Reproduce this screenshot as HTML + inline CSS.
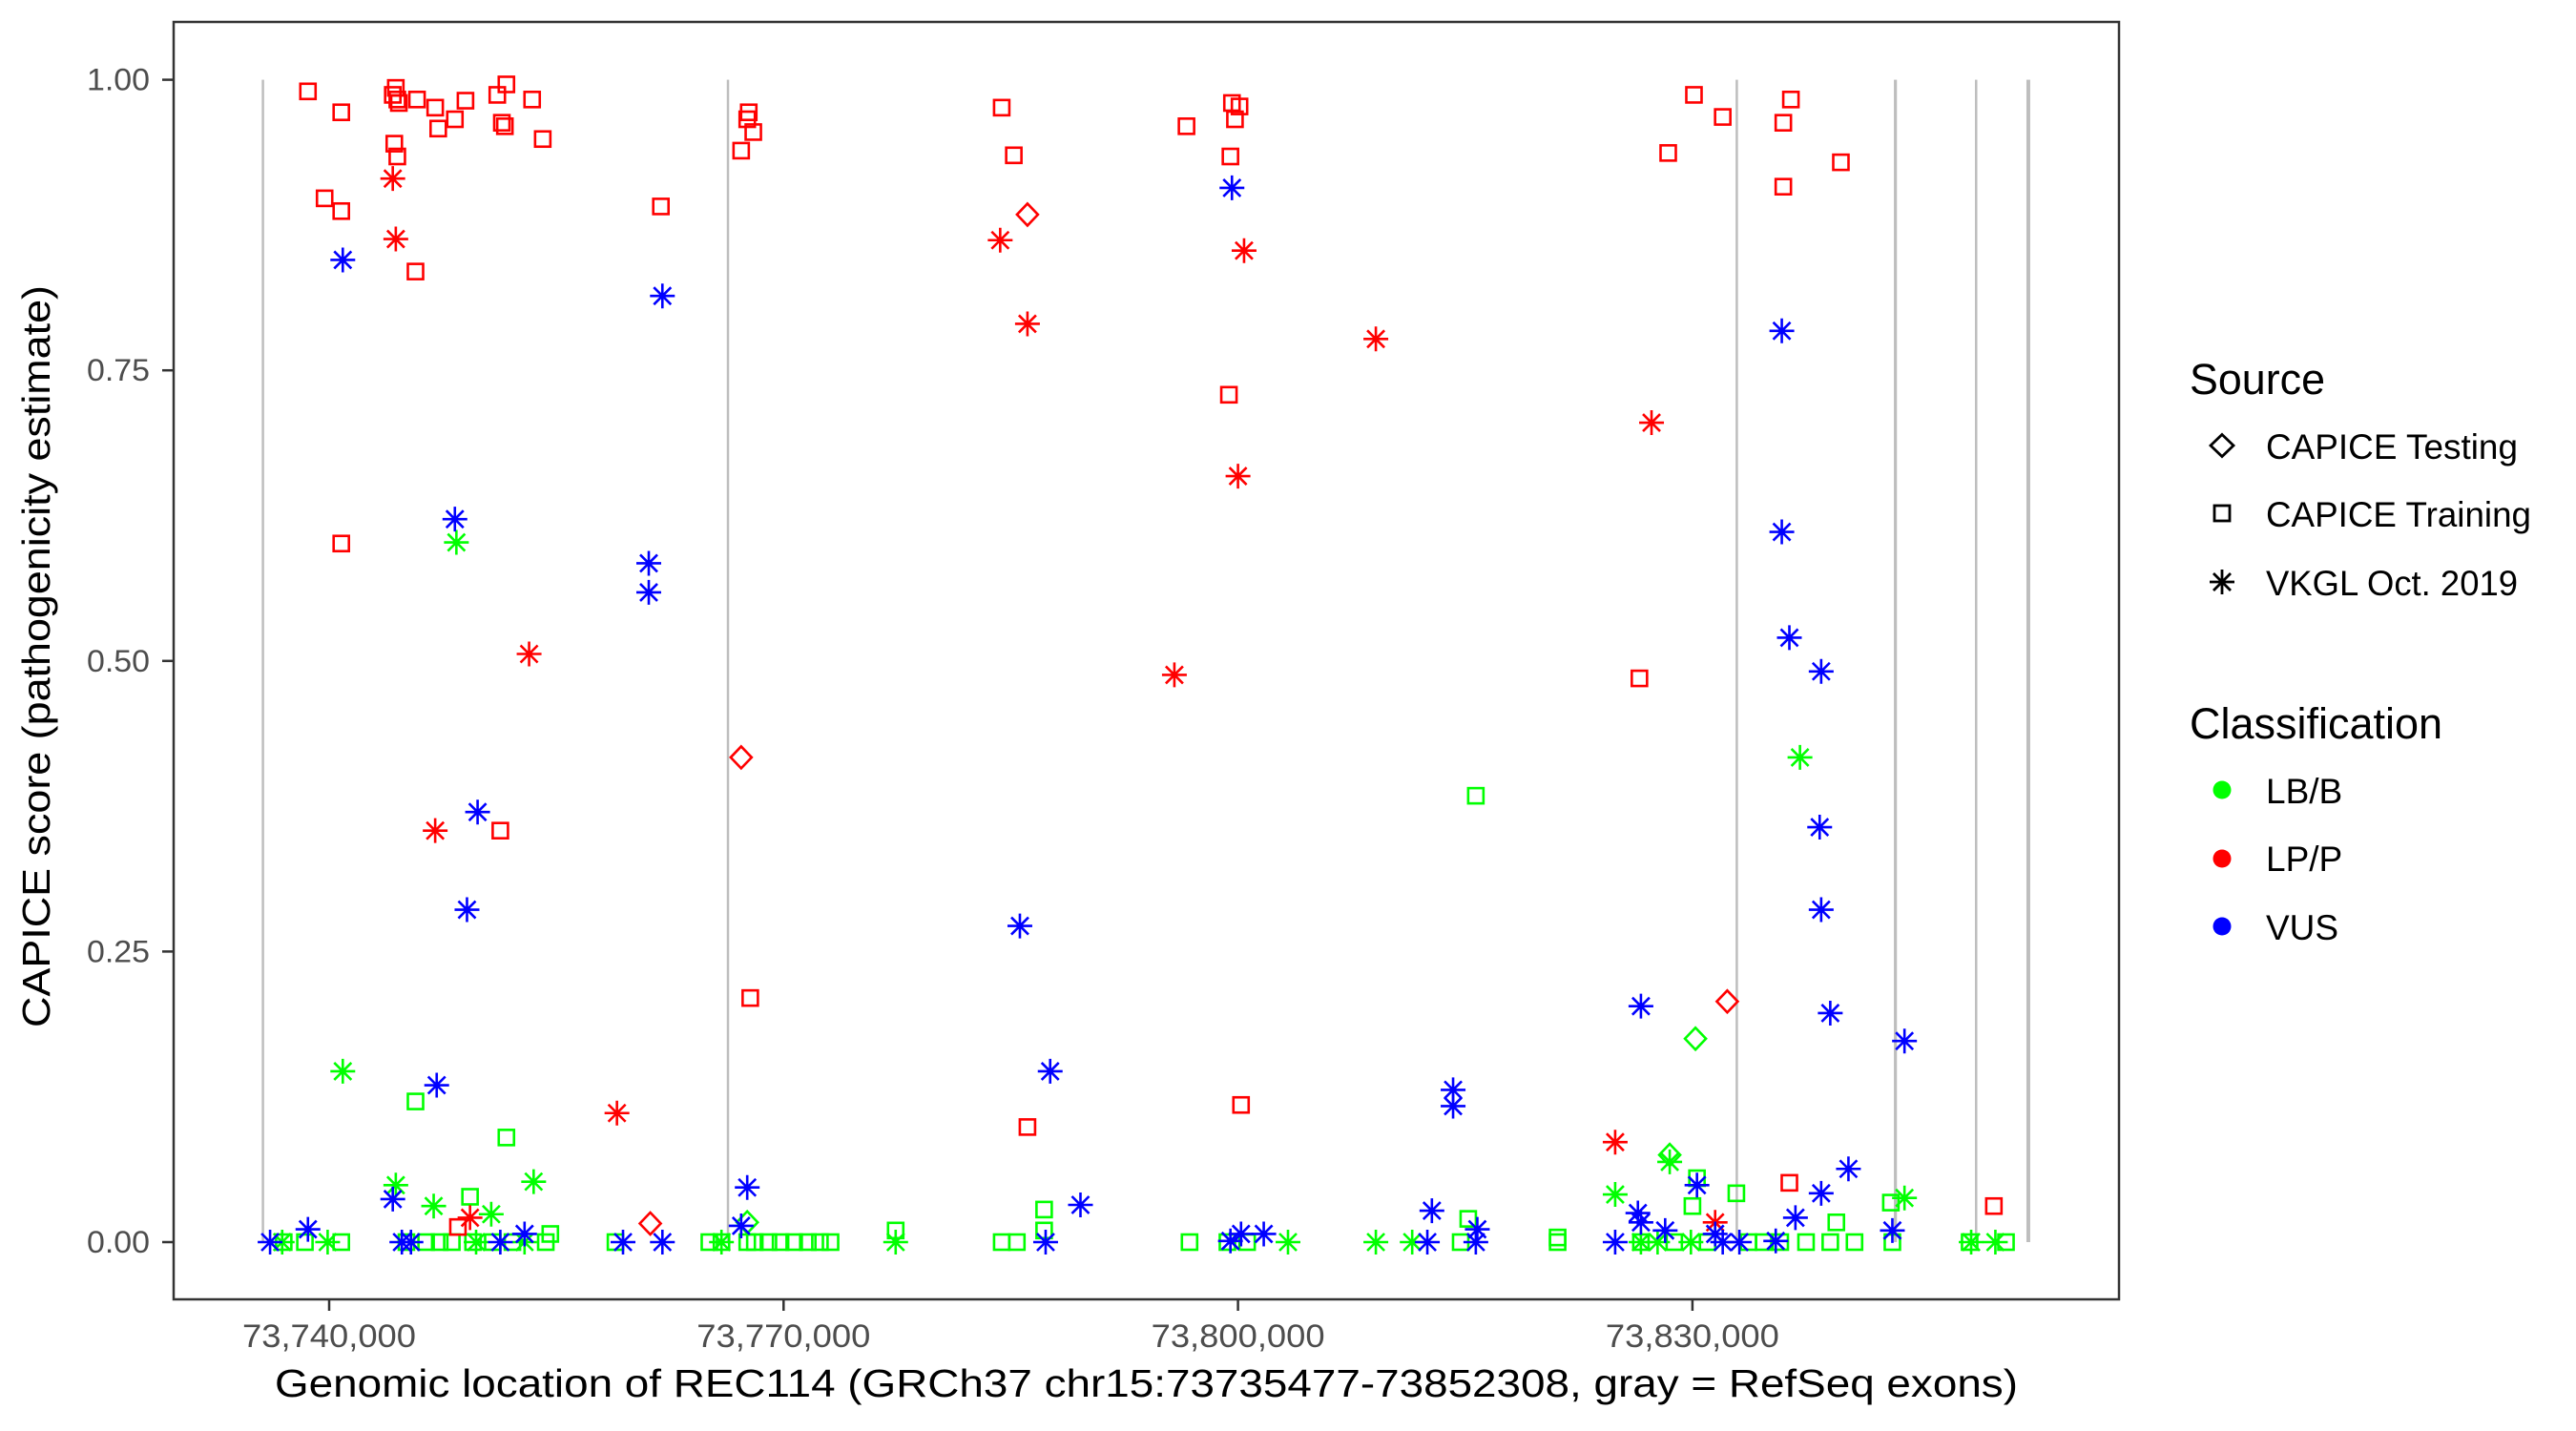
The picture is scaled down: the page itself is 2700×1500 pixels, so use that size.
<!DOCTYPE html>
<html><head><meta charset="utf-8"><style>
html,body{margin:0;padding:0;background:#fff;}
svg{display:block;font-family:"Liberation Sans",Arial,sans-serif;}
</style></head><body>
<svg id="chart" width="2700" height="1500" viewBox="0 0 2700 1500" xmlns="http://www.w3.org/2000/svg">
<rect x="0" y="0" width="2700" height="1500" fill="#fff"/>
<g id="exons"></g>
<g id="points"></g>
<rect x="182" y="23" width="2039" height="1339" fill="none" stroke="#333" stroke-width="2.5"/>
<g id="yaxis"></g>
<g id="xaxis"></g>
<text x="288" y="1464" font-size="41" textLength="1827" lengthAdjust="spacingAndGlyphs" fill="#000">Genomic location of REC114 (GRCh37 chr15:73735477-73852308, gray = RefSeq exons)</text>
<text transform="translate(52,688) rotate(-90)" text-anchor="middle" font-size="41" textLength="778" lengthAdjust="spacingAndGlyphs" fill="#000">CAPICE score (pathogenicity estimate)</text>
<g>
<text x="2295" y="413" font-size="45" textLength="142" lengthAdjust="spacingAndGlyphs">Source</text>
<g>
<path d="M2329,455.5 L2341,467 L2329,478.5 L2317,467 Z" fill="none" stroke="#000" stroke-width="2.8"/>
<text x="2375" y="481" font-size="37" textLength="264" lengthAdjust="spacingAndGlyphs">CAPICE Testing</text></g>
<g>
<rect x="2321" y="530" width="16" height="16" fill="none" stroke="#000" stroke-width="2.8"/>
<text x="2375" y="552" font-size="37" textLength="278" lengthAdjust="spacingAndGlyphs">CAPICE Training</text></g>
<g>
<path d="M2329,597 V623 M2316,610 H2342 M2320,601 L2338,619 M2338,601 L2320,619" stroke="#000" stroke-width="2.8"/>
<text x="2375" y="624" font-size="37" textLength="264" lengthAdjust="spacingAndGlyphs">VKGL Oct. 2019</text></g>
</g>
<g>
<text x="2295" y="774" font-size="45" textLength="265" lengthAdjust="spacingAndGlyphs">Classification</text>
<g><circle cx="2329" cy="828" r="9.5" fill="#00ff00"/><text x="2375" y="842" font-size="37">LB/B</text></g>
<g><circle cx="2329" cy="900" r="9.5" fill="#ff0000"/><text x="2375" y="913" font-size="37">LP/P</text></g>
<g><circle cx="2329" cy="971" r="9.5" fill="#0000ff"/><text x="2375" y="985" font-size="37">VUS</text></g>
</g>
</svg>
<script>
// genomic positions in kb (GRCh37 chr15), scores 0..1
const exonStartKb = [73735.55, 73766.25, 73832.85, 73843.3, 73848.65, 73852.05];
const exonEndKb   = [73735.65, 73766.35, 73832.95, 73843.5, 73848.75, 73852.3];
const xTickKb = [73740, 73770, 73800, 73830];
const xTickLabels = ["73,740,000", "73,770,000", "73,800,000", "73,830,000"];
const yTicks = [0, 0.25, 0.5, 0.75, 1];
const yTickLabels = ["0.00", "0.25", "0.50", "0.75", "1.00"];

// x values below are kb offsets from 73,000 kb
const lbSquareX = [815.7,745.7,751.7,749.3,830.3,832.9,787.2,830.0,839.5,843.1,777.4,821.1,738.4,740.8,737.0,747.3,745.1,746.4,748.1,749.5,750.8,752.1,754.3,754.6,758.9,765.1,765.9,768.1,769.0,769.8,770.7,771.6,772.4,773.1,767.6,784.4,785.4,787.2,796.8,799.3,800.6,815.2,814.7,821.1,826.6,828.8,831.0,833.7,834.7,835.8,837.5,839.1,840.7,843.2,850.7,848.3];
const lbSquareY = [.384,.121,.090,.039,.055,.042,.028,.031,.017,.034,.010,.004,0,0,0,0,0,0,0,0,0,0,0,.007,0,0,0,0,0,0,0,0,0,0,0,0,0,.010,0,0,0,.020,0,0,0,0,0,0,0,0,0,0,0,0,0,0];
const lbStarX = [748.4,837.1,740.9,744.4,746.9,750.7,753.5,828.5,824.9,844.0,736.9,739.9,765.9,777.4,803.3,809.1,811.5,826.6,850.0,848.4,749.7,752.9,827.7,829.9];
const lbStarY = [.602,.417,.147,.049,.031,.024,.052,.069,.041,.038,0,0,0,0,0,0,0,0,0,0,0,0,0,0];
const lbDiamondX = [830.2,828.5,767.6];
const lbDiamondY = [.175,.075,.017];

const lpSquareX = [738.6,739.7,740.8,740.8,744.2,744.4,744.5,744.6,744.3,744.5,745.7,745.8,747.0,747.2,748.3,749.0,751.1,751.7,751.4,751.6,753.4,754.1,740.8,751.3,761.9,767.2,767.6,767.7,768.0,767.8,784.4,785.2,786.1,796.6,799.6,799.8,800.1,799.5,799.4,800.2,826.5,830.1,832.0,828.4,836.0,836.5,836.0,839.8,836.4,849.9,748.5];
const lpSquareY = [.990,.898,.887,.972,.987,.993,.983,.980,.945,.934,.835,.983,.976,.958,.966,.982,.987,.996,.963,.960,.983,.949,.601,.354,.891,.939,.966,.972,.955,.210,.976,.935,.099,.960,.980,.966,.977,.934,.729,.118,.485,.987,.968,.937,.963,.983,.908,.929,.051,.031,.013];
const lpStarX = [744.2,744.4,747.0,753.2,759.0,749.3,784.3,786.1,795.8,800.0,800.4,809.1,827.3,824.9,831.5];
const lpStarY = [.915,.863,.354,.506,.111,.021,.862,.790,.488,.659,.853,.777,.705,.086,.017];
const lpDiamondX = [786.1,767.2,761.2,832.3];
const lpDiamondY = [.884,.417,.016,.207];

const vusStarX = [740.9,748.3,749.8,749.1,747.1,762.0,761.1,761.1,767.6,767.2,785.6,787.6,789.6,799.6,835.9,835.9,836.4,838.5,838.4,838.5,839.1,844.0,826.6,814.2,814.2,812.8,840.3,838.5,836.8,843.2,830.3,826.4,826.6,828.2,831.5,835.5,736.1,738.6,744.2,744.8,745.4,751.3,752.9,759.4,762.0,787.3,799.5,800.2,801.7,815.8,815.7,812.5,824.9,832.0,833.1];
const vusStarY = [.845,.622,.370,.286,.135,.814,.584,.559,.047,.014,.272,.147,.032,.907,.784,.611,.520,.491,.357,.286,.197,.173,.203,.131,.117,.027,.063,.042,.021,.010,.049,.025,.017,.010,.007,.001,0,.011,.037,0,0,0,.007,0,0,0,.001,.007,.007,.011,0,0,0,0,0];

const NS = "http://www.w3.org/2000/svg";
// axis functions
function xScale(kb){ return 345 + (kb - 73740) / 30 * 476.3; }
function xScaleRel(kbRel){ return xScale(73000 + kbRel); }
function yScale(v){ return 1302 - v * 1218.4; }

function mk(tag, attrs, parent){
  const el = document.createElementNS(NS, tag);
  for (const k in attrs) el.setAttribute(k, attrs[k]);
  parent.appendChild(el);
  return el;
}
const exG = document.getElementById('exons');
exonStartKb.forEach((s, i) => {
  const x0 = xScale(s), x1 = xScale(exonEndKb[i]);
  const r = mk('rect', {x: x0, y: yScale(1), width: Math.max(2.5, x1 - x0), height: yScale(0) - yScale(1), fill: '#bebebe'}, exG);
  
  
});

const yG = document.getElementById('yaxis');
yTicks.forEach((v, i) => {
  const y = yScale(v);
  const t = mk('line', {x1: 170, x2: 182, y1: y, y2: y, stroke: '#333', 'stroke-width': 2.5}, yG);
  
  
  const l = mk('text', {x: 157, y: y + 11, 'text-anchor': 'end', 'font-size': 32, fill: '#4d4d4d', textLength: 66, lengthAdjust: 'spacingAndGlyphs'}, yG);
  l.textContent = yTickLabels[i];
  
  
});
const xG = document.getElementById('xaxis');
xTickKb.forEach((k, i) => {
  const x = xScale(k);
  const t = mk('line', {x1: x, x2: x, y1: 1362, y2: 1374, stroke: '#333', 'stroke-width': 2.5}, xG);
  
  
  const l = mk('text', {x: x, y: 1412, 'text-anchor': 'middle', 'font-size': 34, fill: '#4d4d4d', textLength: 182, lengthAdjust: 'spacingAndGlyphs'}, xG);
  l.textContent = xTickLabels[i];
  
  
});

const pG = document.getElementById('points');
function drawSeries(xs, ys, shape, color, name){
  xs.forEach((k, i) => {
    const cx = xScaleRel(k), cy = yScale(ys[i]);
    let el;
    if (shape === 'square') {
      el = mk('rect', {x: cx - 8, y: cy - 8, width: 16, height: 16, fill: 'none', stroke: color, 'stroke-width': 2.6}, pG);
    } else if (shape === 'diamond') {
      el = mk('path', {d: `M${cx},${cy-11.5} L${cx+11},${cy} L${cx},${cy+11.5} L${cx-11},${cy} Z`, fill: 'none', stroke: color, 'stroke-width': 2.6}, pG);
    } else {
      el = mk('path', {d: `M${cx},${cy-13} V${cy+13} M${cx-13},${cy} H${cx+13} M${cx-9},${cy-9} L${cx+9},${cy+9} M${cx+9},${cy-9} L${cx-9},${cy+9}`, stroke: color, 'stroke-width': 2.6, fill: 'none'}, pG);
    }
    
    
  });
}
drawSeries(lbSquareX, lbSquareY, 'square', '#00ff00', 'point-lbb-training');
drawSeries(lbStarX, lbStarY, 'star', '#00ff00', 'point-lbb-vkgl');
drawSeries(lbDiamondX, lbDiamondY, 'diamond', '#00ff00', 'point-lbb-testing');
drawSeries(lpSquareX, lpSquareY, 'square', '#ff0000', 'point-lpp-training');
drawSeries(lpStarX, lpStarY, 'star', '#ff0000', 'point-lpp-vkgl');
drawSeries(lpDiamondX, lpDiamondY, 'diamond', '#ff0000', 'point-lpp-testing');
drawSeries(vusStarX, vusStarY, 'star', '#0000ff', 'point-vus-vkgl');
</script>
</body></html>
